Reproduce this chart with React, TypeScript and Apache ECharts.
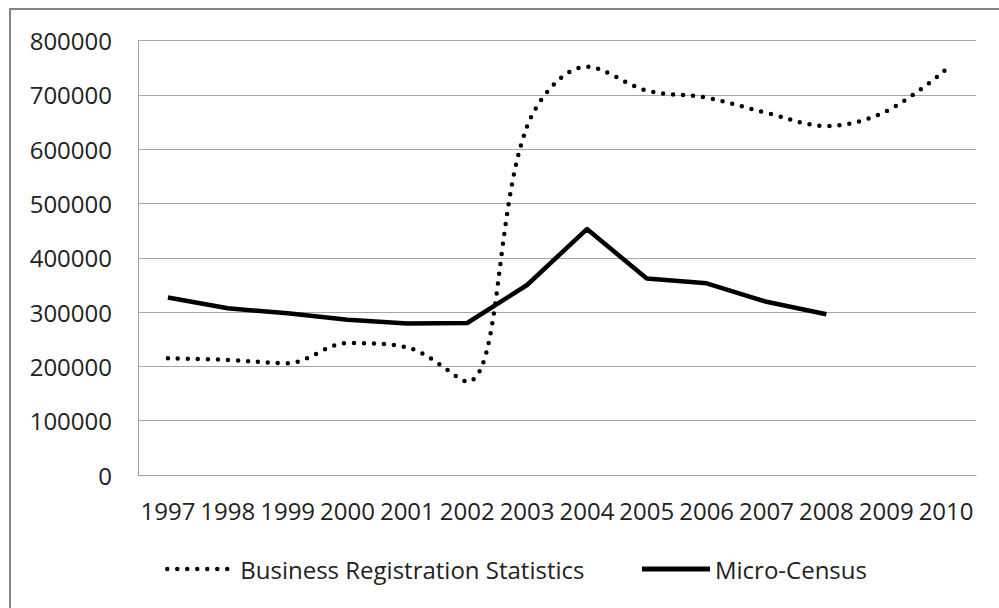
import React, { useEffect, useRef } from "react";
import * as echarts from "echarts";

const years = ["1997", "1998", "1999", "2000", "2001", "2002", "2003", "2004", "2005", "2006", "2007", "2008", "2009", "2010"];
const businessRegistration = [215000, 212000, 206000, 243000, 235000, 172000, 642000, 752000, 708000, 695000, 667000, 643000, 670000, 747000];
const microCensus: (number | null)[] = [327000, 307000, 298000, 286000, 279000, 280000, 350000, 453000, 362000, 353000, 319000, 296000, null, null];
const yTicks = { min: 0, max: 800000, interval: 100000 };

const FONT = "'Open Sans', 'Noto Sans', sans-serif";

export default function App() {
  const ref = useRef<HTMLDivElement>(null);
  useEffect(() => {
    document.body.style.margin = "0";
    if (!ref.current) return;
    const chart = echarts.init(ref.current, null, { renderer: "svg" });
    chart.setOption({
      animation: false,
      backgroundColor: "#ffffff",
      textStyle: { fontFamily: FONT },
      graphic: [
        {
          type: "rect",
          shape: { x: 10, y: 9, width: 1200, height: 800 },
          style: { fill: "none", stroke: "#868686", lineWidth: 2 },
          silent: true,
        },
      ],
      grid: { left: 138, right: 23, top: 40.7, bottom: 133, containLabel: false },
      xAxis: {
        type: "category",
        data: years,
        boundaryGap: true,
        axisLine: { show: true, lineStyle: { color: "#a0a0a0", width: 1 } },
        axisTick: { show: false },
        axisLabel: { interval: 0, fontSize: 24, color: "#222", margin: 23, fontFamily: FONT },
      },
      yAxis: {
        type: "value",
        min: yTicks.min,
        max: yTicks.max,
        interval: yTicks.interval,
        axisLine: { show: true, lineStyle: { color: "#a0a0a0", width: 1 } },
        axisTick: { show: false },
        splitLine: { show: true, lineStyle: { color: "#a6a6a6", width: 1 } },
        axisLabel: {
          fontSize: 24,
          color: "#222",
          margin: 26,
          fontFamily: FONT,
          formatter: (v: number) => String(v),
        },
      },
      legend: {
        left: 160,
        top: 552,
        itemWidth: 68,
        itemHeight: 14,
        itemGap: 55,
        itemStyle: { opacity: 0 },
        textStyle: { fontSize: 24, color: "#222", fontFamily: FONT },
        data: [
          { name: "Business Registration Statistics", lineStyle: { width: 4.5, type: [0, 10], cap: "round", color: "#000" } },
          { name: "Micro-Census", lineStyle: { width: 5, color: "#000" } },
        ],
      },
      series: [
        {
          name: "Business Registration Statistics",
          type: "line",
          data: businessRegistration,
          smooth: 0.35,
          symbol: "none",
          lineStyle: { color: "#000", width: 4.5, type: [0, 10], cap: "round" },
          itemStyle: { color: "#000" },
        },
        {
          name: "Micro-Census",
          type: "line",
          data: microCensus,
          smooth: false,
          symbol: "none",
          lineStyle: { color: "#000", width: 4.5, join: "round" },
          itemStyle: { color: "#000" },
        },
      ],
    });
    return () => chart.dispose();
  }, []);
  return <div ref={ref} style={{ width: 999, height: 608 }} />;
}
